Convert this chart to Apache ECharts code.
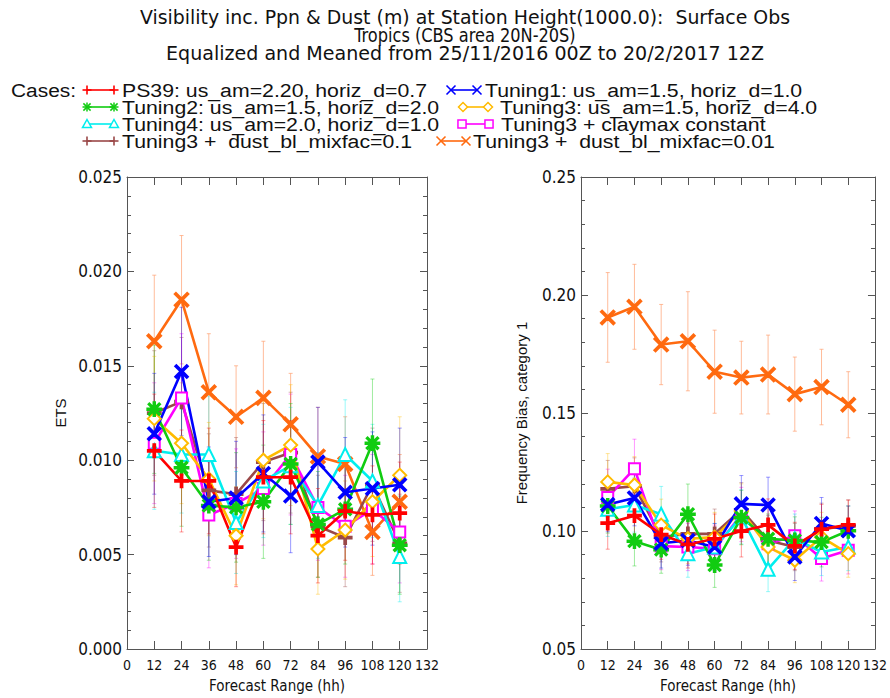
<!DOCTYPE html>
<html><head><meta charset="utf-8">
<script src="https://cdn.jsdelivr.net/npm/echarts@6/dist/echarts.min.js"></script>
<style>html,body{margin:0;padding:0;background:#fff}#c{width:890px;height:698px}</style>
</head><body><div id="c"></div>
<script>
// ---------------- data ----------------
const hours = [12, 24, 36, 48, 60, 72, 84, 96, 108, 120];

const titleLines = [
  'Visibility inc. Ppn & Dust (m) at Station Height(1000.0):  Surface Obs',
  'Tropics (CBS area 20N-20S)',
  'Equalized and Meaned from 25/11/2016 00Z to 20/2/2017 12Z'
];
const caseNames = [
  'PS39: us_am=2.20, horiz_d=0.7',
  'Tuning1: us_am=1.5, horiz_d=1.0',
  'Tuning2: us_am=1.5, horiz_d=2.0',
  'Tuning3: us_am=1.5, horiz_d=4.0',
  'Tuning4: us_am=2.0, horiz_d=1.0',
  'Tuning3 + claymax constant',
  'Tuning3 +  dust_bl_mixfac=0.1',
  'Tuning3 +  dust_bl_mixfac=0.01'
];

// ETS (left panel)
const ps39Ets     = [0.0105, 0.0089, 0.0089, 0.0054, 0.0091, 0.0091, 0.0060, 0.0073, 0.0071, 0.0072];
const tuning1Ets  = [0.0114, 0.0147, 0.0078, 0.0080, 0.0093, 0.0081, 0.0099, 0.0083, 0.0085, 0.0087];
const tuning2Ets  = [0.0127, 0.0096, 0.0076, 0.0075, 0.0078, 0.0098, 0.0066, 0.0074, 0.0109, 0.0055];
const tuning3Ets  = [0.0122, 0.0109, 0.0090, 0.0060, 0.0100, 0.0108, 0.0053, 0.0063, 0.0078, 0.0092];
const tuning4Ets  = [0.0105, 0.0103, 0.0103, 0.0067, 0.0089, 0.0097, 0.0076, 0.0103, 0.0089, 0.0049];
const claymaxEts  = [0.0109, 0.0133, 0.0071, 0.0077, 0.0085, 0.0103, 0.0075, 0.0065, 0.0074, 0.0062];
const dust01Ets   = [0.0125, 0.0131, 0.0084, 0.0082, 0.0099, 0.0104, 0.0065, 0.0059, 0.0087, 0.0056];
const dust001Ets  = [0.0163, 0.0185, 0.0136, 0.0123, 0.0133, 0.0119, 0.0102, 0.0098, 0.0062, 0.0078];

// ETS error half-widths
const ps39EtsErr    = [0.0030, 0.0027, 0.0028, 0.0021, 0.0030, 0.0030, 0.0025, 0.0026, 0.0026, 0.0027];
const tuning1EtsErr = [0.0032, 0.0034, 0.0029, 0.0030, 0.0031, 0.0030, 0.0029, 0.0029, 0.0030, 0.0030];
const tuning2EtsErr = [0.0034, 0.0031, 0.0029, 0.0029, 0.0030, 0.0032, 0.0028, 0.0029, 0.0034, 0.0026];
const tuning3EtsErr = [0.0033, 0.0032, 0.0030, 0.0026, 0.0031, 0.0032, 0.0024, 0.0026, 0.0029, 0.0031];
const tuning4EtsErr = [0.0031, 0.0031, 0.0031, 0.0027, 0.0030, 0.0031, 0.0028, 0.0029, 0.0030, 0.0024];
const claymaxEtsErr = [0.0032, 0.0034, 0.0028, 0.0029, 0.0030, 0.0032, 0.0028, 0.0027, 0.0029, 0.0027];
const dust01EtsErr  = [0.0033, 0.0034, 0.0030, 0.0030, 0.0031, 0.0032, 0.0027, 0.0026, 0.0030, 0.0026];
const dust001EtsErr = [0.0035, 0.0034, 0.0031, 0.0027, 0.0030, 0.0027, 0.0026, 0.0025, 0.0023, 0.0025];

// Frequency bias (right panel)
const ps39Fb     = [0.1033, 0.1065, 0.0985, 0.0943, 0.0967, 0.1000, 0.1026, 0.0937, 0.1008, 0.1026];
const tuning1Fb  = [0.1112, 0.1140, 0.0948, 0.0960, 0.0932, 0.1115, 0.1110, 0.0890, 0.1032, 0.1001];
const tuning2Fb  = [0.1106, 0.0957, 0.0921, 0.1071, 0.0856, 0.1057, 0.0967, 0.0960, 0.0953, 0.1001];
const tuning3Fb  = [0.1208, 0.1195, 0.1025, 0.0967, 0.0974, 0.1085, 0.0932, 0.0876, 0.0974, 0.0904];
const tuning4Fb  = [0.1092, 0.1110, 0.1071, 0.0904, 0.0932, 0.1060, 0.0838, 0.0967, 0.0911, 0.0932];
const claymaxFb  = [0.1142, 0.1264, 0.0936, 0.0932, 0.0925, 0.1070, 0.0946, 0.0980, 0.0883, 0.0918];
const dust01Fb   = [0.1179, 0.1190, 0.0974, 0.0988, 0.0988, 0.1090, 0.0960, 0.0932, 0.1008, 0.1022];
const dust001Fb  = [0.1905, 0.1950, 0.1790, 0.1804, 0.1675, 0.1650, 0.1663, 0.1580, 0.1610, 0.1535];

// Frequency bias error half-widths
const ps39FbErr    = [0.0110, 0.0110, 0.0105, 0.0100, 0.0105, 0.0110, 0.0110, 0.0100, 0.0105, 0.0105];
const tuning1FbErr = [0.0115, 0.0118, 0.0105, 0.0105, 0.0100, 0.0120, 0.0118, 0.0100, 0.0110, 0.0105];
const tuning2FbErr = [0.0115, 0.0105, 0.0100, 0.0128, 0.0095, 0.0115, 0.0105, 0.0100, 0.0105, 0.0105];
const tuning3FbErr = [0.0120, 0.0120, 0.0110, 0.0105, 0.0105, 0.0115, 0.0100, 0.0095, 0.0105, 0.0100];
const tuning4FbErr = [0.0115, 0.0115, 0.0118, 0.0100, 0.0100, 0.0115, 0.0095, 0.0105, 0.0100, 0.0100];
const claymaxFbErr = [0.0120, 0.0125, 0.0100, 0.0100, 0.0100, 0.0115, 0.0100, 0.0105, 0.0095, 0.0100];
const dust01FbErr  = [0.0120, 0.0120, 0.0105, 0.0105, 0.0105, 0.0115, 0.0105, 0.0100, 0.0110, 0.0110];
const dust001FbErr = [0.0190, 0.0180, 0.0170, 0.0210, 0.0176, 0.0154, 0.0167, 0.0157, 0.0160, 0.0140];

// ---------------- styling ----------------
const FONT_N = "'DejaVu Sans Condensed','Liberation Sans',sans-serif";
const FONT = "'Liberation Sans',Arial,'DejaVu Sans',sans-serif";
const AXIS_C = '#555';

const P_PLUS = 'path://M8.5,0L11.5,0L11.5,8.5L20,8.5L20,11.5L11.5,11.5L11.5,20L8.5,20L8.5,11.5L0,11.5L0,8.5L8.5,8.5Z';
const P_X = 'path://M0,2L2,0L10,8L18,0L20,2L12,10L20,18L18,20L10,12L2,20L0,18L8,10Z';
const P_AST = 'path://M8.8,0L11.2,0L11.2,8.8L20,8.8L20,11.2L11.2,11.2L11.2,20L8.8,20L8.8,11.2L0,11.2L0,8.8L8.8,8.8Z' +
              'M1.5,3L3,1.5L10,8.5L17,1.5L18.5,3L11.5,10L18.5,17L17,18.5L10,11.5L3,18.5L1.5,17L8.5,10Z';

const cases = [
  {name: caseNames[0], color: '#ff0000', sym: P_PLUS, size: 13, ets: ps39Ets, etsErr: ps39EtsErr, fb: ps39Fb, fbErr: ps39FbErr, leg: 'plus'},
  {name: caseNames[1], color: '#0000ff', sym: P_X, size: 13, ets: tuning1Ets, etsErr: tuning1EtsErr, fb: tuning1Fb, fbErr: tuning1FbErr, leg: 'x'},
  {name: caseNames[2], color: '#11cc11', sym: P_AST, size: 14, ets: tuning2Ets, etsErr: tuning2EtsErr, fb: tuning2Fb, fbErr: tuning2FbErr, leg: 'ast'},
  {name: caseNames[3], color: '#ffbb00', sym: 'emptyDiamond', size: 13, ets: tuning3Ets, etsErr: tuning3EtsErr, fb: tuning3Fb, fbErr: tuning3FbErr, leg: 'diamond'},
  {name: caseNames[4], color: '#00eeee', sym: 'emptyTriangle', size: 13, ets: tuning4Ets, etsErr: tuning4EtsErr, fb: tuning4Fb, fbErr: tuning4FbErr, leg: 'triangle'},
  {name: caseNames[5], color: '#ff00ff', sym: 'emptyRect', size: 11, ets: claymaxEts, etsErr: claymaxEtsErr, fb: claymaxFb, fbErr: claymaxFbErr, leg: 'square'},
  {name: caseNames[6], color: '#9a4848', sym: P_PLUS, size: 13, ets: dust01Ets, etsErr: dust01EtsErr, fb: dust01Fb, fbErr: dust01FbErr, leg: 'plus'},
  {name: caseNames[7], color: '#ff6a10', sym: P_X, size: 14, ets: dust001Ets, etsErr: dust001EtsErr, fb: dust001Fb, fbErr: dust001FbErr, leg: 'x'}
];

// ---------------- axes ----------------
function xAxisPair(gi) {
  const base = {
    gridIndex: gi, type: 'value', min: 0, max: 132, interval: 12,
    axisLine: {show: true, onZero: false, lineStyle: {color: AXIS_C, width: 1}},
    axisTick: {show: true, inside: true, length: 8, lineStyle: {color: AXIS_C}},
    splitLine: {show: false}
  };
  return [
    Object.assign({}, base, {
      position: 'bottom',
      axisLabel: {show: true, margin: 9, fontSize: 14, fontFamily: FONT_N, color: '#111',
                  showMinLabel: true, showMaxLabel: true, hideOverlap: false},
      name: 'Forecast Range (hh)', nameLocation: 'middle', nameGap: 29,
      nameTextStyle: {fontSize: 15, fontFamily: FONT_N, color: '#111'}
    }),
    Object.assign({}, base, {position: 'top', axisLabel: {show: false}})
  ];
}
function yAxisPair(gi, min, max, interval, dec, name, gap) {
  const base = {
    gridIndex: gi, type: 'value', min: min, max: max, interval: interval,
    axisLine: {show: true, onZero: false, lineStyle: {color: AXIS_C, width: 1}},
    axisTick: {show: true, inside: true, length: 7, lineStyle: {color: AXIS_C}},
    minorTick: {show: true, splitNumber: 5, length: 4, lineStyle: {color: AXIS_C}},
    splitLine: {show: false}, minorSplitLine: {show: false}
  };
  return [
    Object.assign({}, base, {
      position: 'left',
      axisLabel: {show: true, margin: 5, fontSize: 17, fontFamily: FONT_N, color: '#111',
                  showMinLabel: true, showMaxLabel: true, formatter: v => v.toFixed(dec)},
      name: name, nameLocation: 'middle', nameGap: gap, nameRotate: 90,
      nameTextStyle: {fontSize: 15, fontFamily: FONT, color: '#111'}
    }),
    Object.assign({}, base, {position: 'right', axisLabel: {show: false}})
  ];
}

const xAxes = [...xAxisPair(0), ...xAxisPair(1)];
const yAxes = [...yAxisPair(0, 0, 0.025, 0.005, 3, 'ETS', 59), ...yAxisPair(1, 0.05, 0.25, 0.05, 2, 'Frequency Bias, category 1', 52)];

// ---------------- series ----------------
function errSeries(c, vals, errs, xi, yi, isOrange) {
  const data = hours.map((h, i) => [h, vals[i] - errs[i], vals[i] + errs[i]]);
  return {
    type: 'custom', xAxisIndex: xi, yAxisIndex: yi, data: data, silent: true, z: 1,
    renderItem: function (params, api) {
      const x = api.value(0);
      const p1 = api.coord([x, api.value(2)]);
      const p2 = api.coord([x, api.value(1)]);
      const st = {stroke: isOrange ? '#ffa070' : c.color, lineWidth: 1, opacity: isOrange ? 0.7 : 0.4};
      return {type: 'group', children: [
        {type: 'line', shape: {x1: p1[0], y1: p1[1], x2: p2[0], y2: p2[1]}, style: st},
        {type: 'line', shape: {x1: p1[0] - 2, y1: p1[1], x2: p1[0] + 2, y2: p1[1]}, style: st},
        {type: 'line', shape: {x1: p2[0] - 2, y1: p2[1], x2: p2[0] + 2, y2: p2[1]}, style: st}
      ]};
    }
  };
}
function lineSeries(c, vals, xi, yi) {
  return {
    type: 'line', name: c.name, xAxisIndex: xi, yAxisIndex: yi, z: 3,
    data: hours.map((h, i) => [h, vals[i]]),
    symbol: c.sym, symbolSize: c.size, showAllSymbol: true,
    lineStyle: {color: c.color, width: 2.6},
    itemStyle: {color: c.color, borderColor: c.color, borderWidth: 1.8},
    emphasis: {disabled: true}
  };
}

const series = [];
const drawOrder = [7, 6, 5, 4, 3, 2, 1, 0];
drawOrder.forEach(k => {
  const c = cases[k];
  series.push(errSeries(c, c.ets, c.etsErr, 0, 0, k === 7));
  series.push(errSeries(c, c.fb, c.fbErr, 2, 2, k === 7));
});
drawOrder.forEach(k => {
  const c = cases[k];
  series.push(lineSeries(c, c.ets, 0, 0));
  series.push(lineSeries(c, c.fb, 2, 2));
});

// ---------------- legend & title (graphic) ----------------
function seg(x1, y1, x2, y2, color, w) {
  return {type: 'line', shape: {x1: x1, y1: y1, x2: x2, y2: y2}, style: {stroke: color, lineWidth: w}};
}
function legendMarker(type, cx, cy, color) {
  const s = 4.5;
  if (type === 'plus') {
    return {type: 'group', children: [seg(cx - s, cy, cx + s, cy, color, 1.6), seg(cx, cy - s, cx, cy + s, color, 1.6)]};
  }
  if (type === 'x') {
    return {type: 'group', children: [seg(cx - s, cy - s, cx + s, cy + s, color, 1.6), seg(cx - s, cy + s, cx + s, cy - s, color, 1.6)]};
  }
  if (type === 'ast') {
    return {type: 'group', children: [
      seg(cx - s, cy, cx + s, cy, color, 1.5), seg(cx, cy - s, cx, cy + s, color, 1.5),
      seg(cx - s * 0.8, cy - s * 0.8, cx + s * 0.8, cy + s * 0.8, color, 1.5),
      seg(cx - s * 0.8, cy + s * 0.8, cx + s * 0.8, cy - s * 0.8, color, 1.5)]};
  }
  let pts;
  if (type === 'diamond') pts = [[cx, cy - s], [cx + s, cy], [cx, cy + s], [cx - s, cy]];
  else if (type === 'triangle') pts = [[cx, cy - s], [cx + s, cy + s * 0.8], [cx - s, cy + s * 0.8]];
  else pts = [[cx - s * 0.9, cy - s * 0.9], [cx + s * 0.9, cy - s * 0.9], [cx + s * 0.9, cy + s * 0.9], [cx - s * 0.9, cy + s * 0.9]];
  return {type: 'polygon', shape: {points: pts}, style: {fill: '#fff', stroke: color, lineWidth: 1.5}};
}
// legend slot layout: [x1, x2, textX, y]
const legendSlots = [
  [87, 114, 122, 90], [451, 477, 485, 90],
  [87, 114, 122, 107], [463, 488, 500, 107],
  [87, 114, 122, 124], [462, 489, 501, 124],
  [87, 114, 122, 141], [441, 466, 473, 141]
];
const titleScale = [1.05, 0.9, 1.06];
const graphics = [];
titleLines.forEach((t, i) => {
  graphics.push({type: 'text', x: 465, y: 17 + i * 18, scaleX: titleScale[i],
    style: {text: t, fill: '#111', font: '20px ' + FONT_N, textAlign: 'center', textVerticalAlign: 'middle'}});
});
graphics.push({type: 'text', x: 11, y: 90, scaleX: 1.1,
  style: {text: 'Cases:', fill: '#111', font: '19px ' + FONT, textAlign: 'left', textVerticalAlign: 'middle'}});
cases.forEach((c, j) => {
  const [x1, x2, tx, y] = legendSlots[j];
  graphics.push(seg(x1, y, x2, y, c.color, 1.6));
  graphics.push(legendMarker(c.leg, x1, y, c.color));
  graphics.push(legendMarker(c.leg, x2, y, c.color));
  graphics.push({type: 'text', x: tx, y: y, scaleX: 1.12,
    style: {text: c.name, fill: '#111', font: '19px ' + FONT, textAlign: 'left', textVerticalAlign: 'middle'}});
});

const chart = echarts.init(document.getElementById('c'), null, {renderer: 'svg', width: 890, height: 698});
chart.setOption({
  animation: false,
  backgroundColor: '#fff',
  grid: [
    {left: 127, right: 463, top: 177, bottom: 41, containLabel: false},
    {left: 581, right: 12, top: 177, bottom: 41, containLabel: false}
  ],
  xAxis: xAxes,
  yAxis: yAxes,
  series: series,
  graphic: graphics
});
</script>
</body></html>
